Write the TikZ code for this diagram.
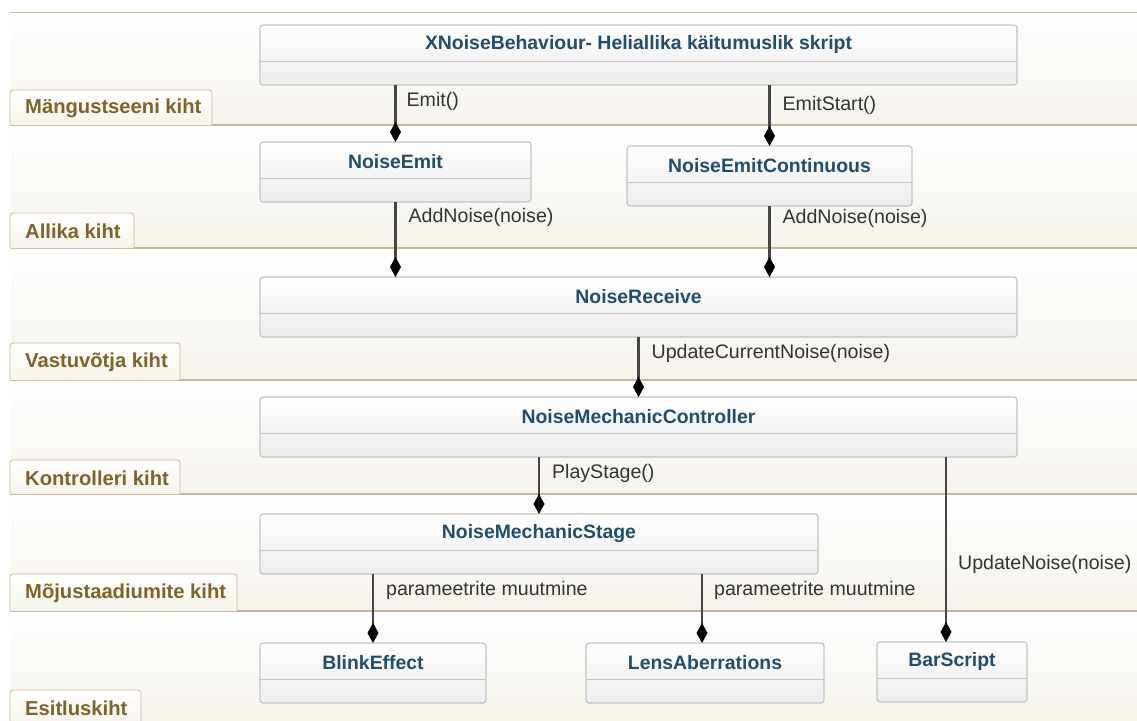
\documentclass[tikz,border=0pt]{standalone}
\usepackage{fontspec}
\setmainfont{Liberation Sans}
\usetikzlibrary{arrows.meta,calc}
\definecolor{lanebg}{RGB}{246,243,236}
\definecolor{laneline}{RGB}{200,184,150}
\definecolor{tabtext}{RGB}{128,99,38}
\definecolor{classtext}{RGB}{31,78,110}
\definecolor{boxline}{RGB}{196,196,196}
\definecolor{boxlow}{RGB}{236,236,236}
\definecolor{linkgrey}{RGB}{70,70,70}
\definecolor{lbltext}{RGB}{51,51,51}

% one class box: name, centre x, centre y, width, title
\newcommand{\classbox}[5]{%
  \node[classbox, minimum width=#4] (#1) at (#2,#3) {};
  \draw[boxline, line width=1pt] ($(#1.north west)+(0,36)$) -- ($(#1.north east)+(0,36)$);
  \node[classtitle] (#1-title) at ($(#1.north)+(0,19.5)$) {#5};
}

\begin{document}
\begin{tikzpicture}[x=1pt,y=-1pt,
  every node/.style={font=\fontsize{19.6}{23}\selectfont},
  classbox/.style={draw=boxline, line width=1.2pt, rounded corners=3pt, top color=white,
    bottom color=boxlow, minimum height=60pt, inner sep=0pt, outer sep=0pt},
  classtitle/.style={text=classtext, font=\fontsize{19.4}{23}\selectfont\bfseries},
  link/.style={draw=linkgrey, line width=2.2pt, -{Diamond[length=20pt,width=11pt,color=black]}},
  lbl/.style={text=lbltext, anchor=west, inner sep=0pt},
  tab/.style={draw=laneline, line width=0.8pt, rounded corners=3pt, top color=white, bottom color=lanebg},
  tabname/.style={text=tabtext, font=\fontsize{20.2}{23}\selectfont\bfseries, anchor=west, inner sep=0pt}]
\useasboundingbox (0,0) rectangle (1137,720);
\fill[white] (0,0) rectangle (1137,720);

% lanes
\foreach \t/\b in {12/125,125/248,248/380,380/494,494/611,611/720}
  \shade[top color=white, bottom color=lanebg] (10,\t) rectangle (1137,\b);
\draw[laneline, line width=1pt] (10,12) -- (1137,12);
\foreach \y in {125,248,380,494,611}
  \draw[laneline, line width=1.8pt] (10,\y) -- (1137,\y);

% lane tabs
\foreach \w/\t/\b/\txt [count=\i] in {212/90/125/Mängustseeni kiht, 134/213/248/Allika kiht,
    180/343/380/Vastuvõtja kiht, 180/460/494/Kontrolleri kiht,
    237/574/611/Mõjustaadiumite kiht, 141/690/724/Esitluskiht}{
  \path[tab] (10,\b) -- (10,\t) -- (\w,\t) -- (\w,\b);
  \node[tabname] (tab\i) at (25,{(\t+\b)/2+1}) {\txt};
}

% classes
\classbox{root}{638.5}{55}{757}{XNoiseBehaviour- Heliallika käitumuslik skript}
\classbox{emit}{395.5}{172}{271}{NoiseEmit}
\classbox{emitcont}{769.5}{176}{285}{NoiseEmitContinuous}
\classbox{receive}{638.5}{307}{757}{NoiseReceive}
\classbox{controller}{638.5}{427}{757}{NoiseMechanicController}
\classbox{stage}{539}{544}{558}{NoiseMechanicStage}
\classbox{blink}{373}{673}{226}{BlinkEffect}
\classbox{lens}{705}{673}{238}{LensAberrations}
\classbox{bar}{952}{672}{150}{BarScript}

% connectors
\draw[link] (root.south -| emit.north) -- (emit.north)
  node[lbl, at start, xshift=10pt, yshift=-16pt] {Emit()};
\draw[link] (root.south -| emitcont.north) -- (emitcont.north)
  node[lbl, at start, xshift=12pt, yshift=-20pt] {EmitStart()};
\draw[link] (emit.south) -- (emit.south |- receive.north)
  node[lbl, at start, xshift=12pt, yshift=-15pt] {AddNoise(noise)};
\draw[link] (emitcont.south) -- (emitcont.south |- receive.north)
  node[lbl, at start, xshift=12pt, yshift=-12pt] {AddNoise(noise)};
\draw[link] (receive.south) -- (controller.north)
  node[lbl, at start, xshift=12pt, yshift=-16pt] {UpdateCurrentNoise(noise)};
\draw[link] (controller.south -| stage.north) -- (stage.north)
  node[lbl, at start, xshift=12pt, yshift=-16pt] {PlayStage()};
\draw[link] (stage.south -| blink.north) -- (blink.north)
  node[lbl, at start, xshift=12pt, yshift=-16pt] {parameetrite muutmine};
\draw[link] ([xshift=-3pt]stage.south -| lens.north) -- ([xshift=-3pt]lens.north)
  node[lbl, at start, xshift=11pt, yshift=-16pt] {parameetrite muutmine};
\draw[link] ([xshift=-6pt]controller.south -| bar.north) -- ([xshift=-6pt]bar.north)
  node[lbl, pos=0.58, xshift=11pt] {UpdateNoise(noise)};
\end{tikzpicture}
\end{document}
